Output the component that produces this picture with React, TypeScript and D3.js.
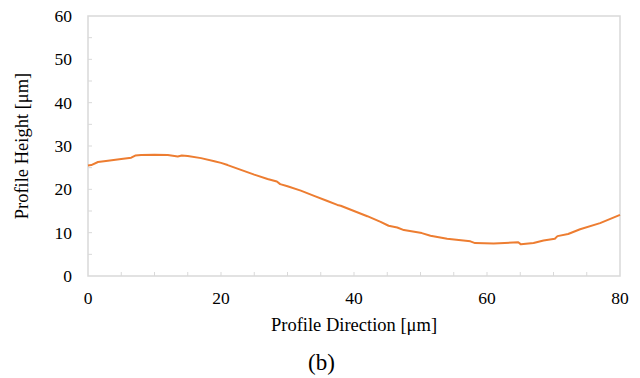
import React from "react";
import * as d3 from "d3";

const xs: number[] = [0, 0.5, 1.5, 3, 5, 6.5, 7.1, 8, 10, 12, 13.5, 14.1, 15, 17, 19, 20, 21, 23, 25, 27, 28.4, 28.9, 30, 32, 34, 36, 37.5, 38, 40, 42, 44, 45.2, 46.5, 47.5, 50.2, 51.5, 54, 57.5, 58.2, 61, 64.7, 65.1, 67, 68.5, 70.2, 70.6, 72.2, 74, 77, 80];
const ys: number[] = [25.5, 25.6, 26.3, 26.6, 27.0, 27.3, 27.8, 27.9, 28.0, 27.9, 27.6, 27.8, 27.7, 27.2, 26.5, 26.1, 25.6, 24.5, 23.4, 22.4, 21.8, 21.2, 20.7, 19.7, 18.5, 17.3, 16.4, 16.2, 15.0, 13.8, 12.5, 11.6, 11.2, 10.6, 9.9, 9.3, 8.6, 8.0, 7.6, 7.5, 7.8, 7.3, 7.6, 8.2, 8.6, 9.2, 9.7, 10.8, 12.2, 14.1];

const xTickLabels: number[] = [0, 20, 40, 60, 80];
const yTickLabels: number[] = [0, 10, 20, 30, 40, 50, 60];
const xMinor: number[] = d3.range(5, 80, 5);
const yMinor: number[] = d3.range(5, 60, 5);

const W = 640, H = 378;
const left = 88, right = 620, top = 16, bottom = 276;
const font = "'Liberation Serif', 'Times New Roman', serif";

export default function App() {
  const x = d3.scaleLinear().domain([0, 80]).range([left, right]);
  const y = d3.scaleLinear().domain([0, 60]).range([bottom, top]);
  const data = xs.map((v, i) => [v, ys[i]] as [number, number]);
  const line = d3.line<[number, number]>().x(d => x(d[0])).y(d => y(d[1]));
  const axisColor = "#d9d9d9";
  return (
    <svg width={W} height={H} style={{ position: "absolute", left: 0, top: 0, background: "#fff" }}>
      <rect x={left} y={top} width={right - left} height={bottom - top} fill="none" stroke={axisColor} strokeWidth={1.5} />
      {xMinor.map(t => (
        <line key={"xm" + t} x1={x(t)} x2={x(t)} y1={bottom} y2={bottom - 4} stroke={axisColor} strokeWidth={1} />
      ))}
      {yMinor.map(t => (
        <line key={"ym" + t} x1={left} x2={left + 4} y1={y(t)} y2={y(t)} stroke={axisColor} strokeWidth={1} />
      ))}
      {xTickLabels.map(t => (
        <text key={"xt" + t} x={x(t)} y={304} textAnchor="middle" fontFamily={font} fontSize={17.5} fill="#000">{t}</text>
      ))}
      {yTickLabels.map(t => (
        <text key={"yt" + t} x={72} y={y(t)} dy="0.35em" textAnchor="end" fontFamily={font} fontSize={17.5} fill="#000">{t}</text>
      ))}
      <path d={line(data) || ""} fill="none" stroke="#ED7D31" strokeWidth={2} strokeLinejoin="round" />
      <text x={(left + right) / 2} y={331} textAnchor="middle" fontFamily={font} fontSize={18.5} fill="#000">Profile Direction [μm]</text>
      <text transform={`translate(28, ${(top + bottom) / 2}) rotate(-90)`} textAnchor="middle" fontFamily={font} fontSize={18.5} fill="#000">Profile Height [μm]</text>
      <text x={321.5} y={370} textAnchor="middle" fontFamily={font} fontSize={23} fill="#000">(b)</text>
    </svg>
  );
}
